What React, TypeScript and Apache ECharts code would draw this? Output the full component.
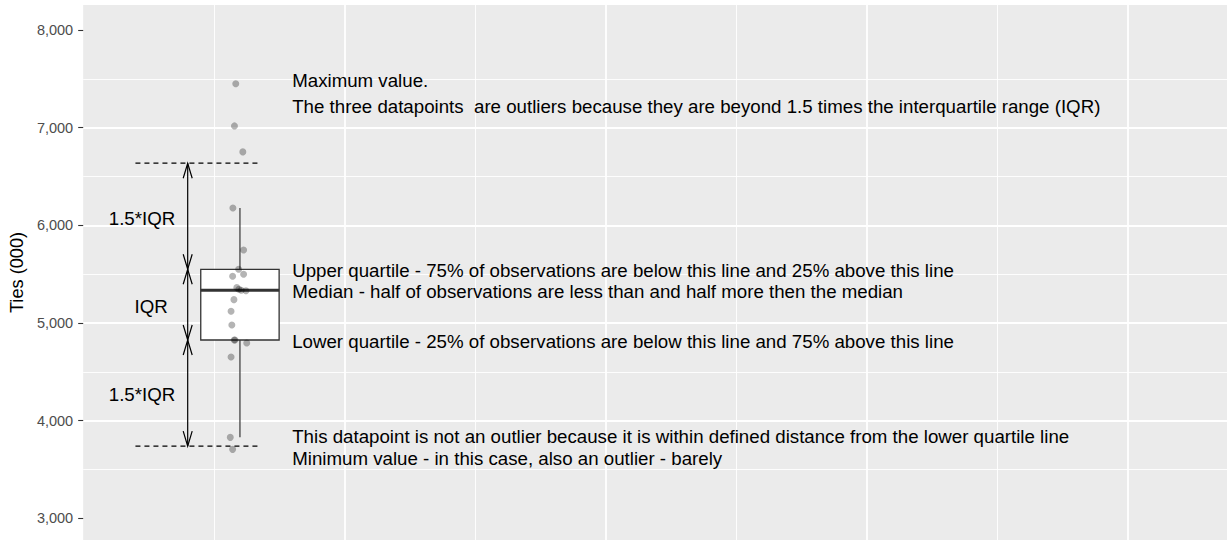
import React, { useEffect, useRef } from "react";
import * as echarts from "echarts";

// ---- data ----
const tiesValues = [
  7449, 7018, 6752, 6178, 5748, 5550, 5499, 5478, 5362, 5345, 5335, 5331,
  5239, 5120, 4980, 4826, 4826, 4795, 4652, 3829, 3706,
];
const jitterX = [
  -0.416, -0.421, -0.389, -0.427, -0.386, -0.405, -0.386, -0.428, -0.412,
  -0.404, -0.395, -0.377, -0.423, -0.434, -0.431, -0.422, -0.419, -0.374,
  -0.434, -0.437, -0.428,
];
const boxCenterX = [-0.4];
const yTickValues = [3000, 4000, 5000, 6000, 7000, 8000];

const rightNotes = [
  { text: "Maximum value.", x: -0.2, y: 7483 },
  {
    text: "The three datapoints  are outliers because they are beyond 1.5 times the interquartile range (IQR)",
    x: -0.2,
    y: 7212,
  },
  {
    text: "Upper quartile - 75% of observations are below this line and 25% above this line",
    x: -0.2,
    y: 5537,
  },
  {
    text: "Median - half of observations are less than and half more then the median",
    x: -0.2,
    y: 5322,
  },
  {
    text: "Lower quartile - 25% of observations are below this line and 75% above this line",
    x: -0.2,
    y: 4810,
  },
  {
    text: "This datapoint is not an outlier because it is within defined distance from the lower quartile line",
    x: -0.2,
    y: 3838,
  },
  { text: "Minimum value - in this case, also an outlier - barely", x: -0.2, y: 3612 },
];
const leftNotes = [
  { text: "1.5*IQR", x: -0.775, y: 6072 },
  { text: "IQR", x: -0.74, y: 5171 },
  { text: "1.5*IQR", x: -0.775, y: 4263 },
];
const arrowX = [-0.6];
const fenceLineX = [-0.8, -0.32];

// ---- box statistics (R type-7 quantiles, as ggplot) ----
function quantile(sorted: number[], p: number) {
  const h = (sorted.length - 1) * p;
  const lo = Math.floor(h);
  const hi = Math.ceil(h);
  return sorted[lo] + (h - lo) * (sorted[hi] - sorted[lo]);
}
const sortedVals = [...tiesValues].sort((a, b) => a - b);
const q1 = quantile(sortedVals, 0.25);
const median = quantile(sortedVals, 0.5);
const q3 = quantile(sortedVals, 0.75);
const iqr = q3 - q1;
const lowerFence = q1 - 1.5 * iqr;
const upperFence = q3 + 1.5 * iqr;
const whiskerLow = Math.min(...sortedVals.filter((v) => v >= lowerFence));
const whiskerHigh = Math.max(...sortedVals.filter((v) => v <= upperFence));

const FONT = '"Liberation Sans", Arial, Helvetica, sans-serif';
const BOX_HALF = 0.15;

export default function App() {
  const ref = useRef<HTMLDivElement>(null);
  useEffect(() => {
    if (!ref.current) return;
    const chart = echarts.init(ref.current, null, { renderer: "svg" });

    const renderBox = (params: any, api: any) => {
      const x = api.value(0);
      const tl = api.coord([x - BOX_HALF, q3]);
      const br = api.coord([x + BOX_HALF, q1]);
      const m = api.coord([x, median]);
      const wt = api.coord([x, whiskerHigh]);
      const wb = api.coord([x, whiskerLow]);
      const stroke = "#333333";
      return {
        type: "group",
        children: [
          {
            type: "line",
            shape: { x1: wt[0], y1: wt[1], x2: wt[0], y2: tl[1] },
            style: { stroke: "#444444", lineWidth: 1.3 },
          },
          {
            type: "line",
            shape: { x1: wb[0], y1: br[1], x2: wb[0], y2: wb[1] },
            style: { stroke: "#444444", lineWidth: 1.3 },
          },
          {
            type: "rect",
            shape: { x: tl[0], y: tl[1], width: br[0] - tl[0], height: br[1] - tl[1] },
            style: { fill: "#FFFFFF", stroke, lineWidth: 1.3 },
          },
          {
            type: "line",
            shape: { x1: tl[0], y1: m[1], x2: br[0], y2: m[1] },
            style: { stroke, lineWidth: 3 },
          },
        ],
      };
    };

    const head = (tip: number[], up: boolean) => {
      const dy = up ? 15 : -15;
      return {
        type: "polyline",
        shape: {
          points: [
            [tip[0] - 4.5, tip[1] + dy],
            [tip[0], tip[1]],
            [tip[0] + 4.5, tip[1] + dy],
          ],
        },
        style: { stroke: "#000", fill: null, lineWidth: 1.2 },
      };
    };

    const renderGuides = (params: any, api: any) => {
      const x = api.value(0);
      const pUF = api.coord([x, upperFence]);
      const pQ3 = api.coord([x, q3]);
      const pQ1 = api.coord([x, q1]);
      const pLF = api.coord([x, lowerFence]);
      const dUa = api.coord([fenceLineX[0], upperFence]);
      const dUb = api.coord([fenceLineX[1], upperFence]);
      const dLa = api.coord([fenceLineX[0], lowerFence]);
      const dLb = api.coord([fenceLineX[1], lowerFence]);
      const dash = { stroke: "#000000", lineWidth: 1.2, lineDash: [5, 4] };
      return {
        type: "group",
        children: [
          { type: "line", shape: { x1: dUa[0], y1: dUa[1], x2: dUb[0], y2: dUb[1] }, style: dash },
          { type: "line", shape: { x1: dLa[0], y1: dLa[1], x2: dLb[0], y2: dLb[1] }, style: dash },
          {
            type: "line",
            shape: { x1: pUF[0], y1: pUF[1], x2: pLF[0], y2: pLF[1] },
            style: { stroke: "#000", lineWidth: 1.2 },
          },
          head(pUF, true),
          head(pQ3, false),
          head(pQ3, true),
          head(pQ1, false),
          head(pQ1, true),
          head(pLF, false),
        ],
      };
    };

    const makeTextRender = (notes: any[], align: string) => (params: any, api: any) => {
      const p = api.coord([api.value(0), api.value(1)]);
      return {
        type: "text",
        x: p[0],
        y: p[1],
        style: {
          text: notes[params.dataIndex].text,
          fill: "#000000",
          fontSize: 18.7,
          fontFamily: FONT,
          align,
          verticalAlign: "middle",
        },
      };
    };

    chart.setOption({
      animation: false,
      backgroundColor: "#FFFFFF",
      grid: {
        show: true,
        left: 81,
        right: 0,
        top: 5,
        bottom: 0,
        backgroundColor: "#EBEBEB",
        borderWidth: 0,
        containLabel: false,
      },
      xAxis: {
        type: "value",
        min: -1,
        max: 3.378,
        interval: 1,
        axisLine: { show: false, onZero: false },
        axisTick: { show: false },
        axisLabel: { show: false },
        splitLine: {
          show: true,
          showMinLine: false,
          showMaxLine: false,
          lineStyle: { color: "#FFFFFF", width: 1.8 },
        },
        minorTick: { show: false, splitNumber: 2 },
        minorSplitLine: { show: true, lineStyle: { color: "#FFFFFF", width: 0.9 } },
      },
      yAxis: {
        type: "value",
        min: 2778,
        max: 8256,
        splitNumber: 5,
        name: "Ties (000)",
        nameLocation: "middle",
        nameGap: 44,
        nameTextStyle: { fontSize: 18.2, color: "#000000", fontFamily: FONT },
        axisLine: { show: false, onZero: false },
        axisTick: {
          show: true,
          length: 5,
          customValues: yTickValues,
          lineStyle: { color: "#333333", width: 1.1 },
        },
        axisLabel: {
          show: true,
          margin: 10,
          customValues: yTickValues,
          fontSize: 14.5,
          color: "#4D4D4D",
          fontFamily: FONT,
          formatter: (v: number) => v.toLocaleString("en-US"),
        },
        splitLine: {
          show: true,
          showMinLine: false,
          showMaxLine: false,
          lineStyle: { color: "#FFFFFF", width: 1.8 },
        },
        minorTick: { show: false, splitNumber: 2 },
        minorSplitLine: { show: true, lineStyle: { color: "#FFFFFF", width: 0.9 } },
      },
      series: [
        {
          type: "custom",
          name: "box",
          silent: true,
          z: 2,
          renderItem: renderBox,
          data: boxCenterX.map((x) => [x, median]),
          encode: { x: 0, y: 1 },
        },
        {
          type: "custom",
          name: "guides",
          silent: true,
          z: 3,
          renderItem: renderGuides,
          data: arrowX.map((x) => [x, median]),
          encode: { x: 0, y: 1 },
        },
        {
          type: "scatter",
          name: "ties",
          silent: true,
          z: 4,
          symbol: "circle",
          symbolSize: 7,
          itemStyle: { color: "rgba(0,0,0,0.37)" },
          data: tiesValues.map((v, i) => [jitterX[i], v]),
        },
        {
          type: "custom",
          name: "rightNotes",
          silent: true,
          z: 5,
          renderItem: makeTextRender(rightNotes, "left"),
          data: rightNotes.map((n) => [n.x, n.y]),
          encode: { x: 0, y: 1 },
        },
        {
          type: "custom",
          name: "leftNotes",
          silent: true,
          z: 5,
          renderItem: makeTextRender(leftNotes, "center"),
          data: leftNotes.map((n) => [n.x, n.y]),
          encode: { x: 0, y: 1 },
        },
      ],
    });
    return () => chart.dispose();
  }, []);

  return (
    <div
      ref={ref}
      style={{ position: "absolute", left: 0, top: 0, width: 1227, height: 540 }}
    />
  );
}
